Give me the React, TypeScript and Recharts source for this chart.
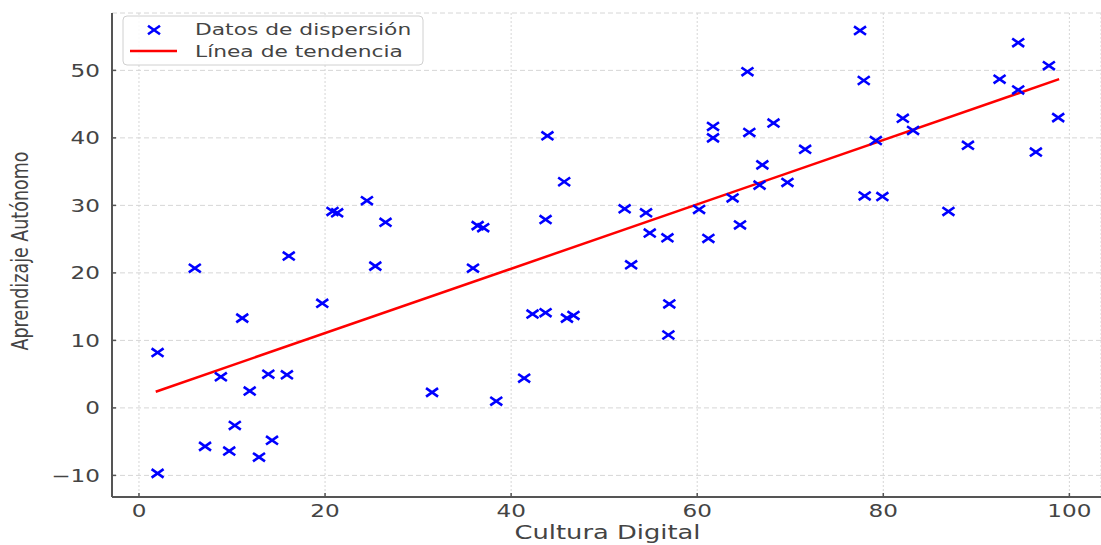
import React from 'react';
import {
  ScatterChart,
  Scatter,
  XAxis,
  YAxis,
  CartesianGrid,
} from 'recharts';

// Cultura Digital (x) vs Aprendizaje Autónomo (y)
const culturaDigital = [
  2.0, 2.0, 6.0, 7.1, 8.8, 9.7, 10.3, 11.1, 11.9, 12.9, 13.9, 14.3, 15.9, 16.1,
  19.7, 20.8, 21.3, 24.5, 25.4, 26.5, 31.5, 35.9, 36.4, 37.0, 38.4, 41.4, 42.3,
  43.7, 43.9, 43.7, 45.7, 46.0, 46.7, 52.2, 52.9, 54.5, 54.9, 56.8, 57.0, 56.9,
  60.2, 61.2, 61.7, 61.7, 63.8, 64.6, 65.4, 65.6, 66.7, 67.0, 68.2, 69.7, 71.6,
  77.5, 77.9, 78.0, 79.2, 79.9, 82.1, 83.2, 87.0, 89.1, 92.5, 94.5, 94.5, 96.4,
  97.8, 98.8,
];
const aprendizaje = [
  -9.7, 8.2, 20.7, -5.7, 4.6, -6.4, -2.6, 13.3, 2.5, -7.3, 5.0, -4.8, 4.9, 22.5,
  15.5, 29.1, 28.9, 30.7, 21.0, 27.5, 2.3, 20.7, 27.0, 26.7, 1.0, 4.4, 13.9,
  14.1, 40.3, 27.9, 33.5, 13.3, 13.7, 29.5, 21.2, 28.9, 25.9, 25.2, 15.4, 10.8,
  29.4, 25.1, 41.7, 40.0, 31.1, 27.1, 49.8, 40.8, 33.0, 36.0, 42.2, 33.4, 38.3,
  55.9, 48.5, 31.4, 39.6, 31.3, 42.9, 41.1, 29.1, 38.9, 48.7, 54.1, 47.1, 37.9,
  50.7, 43.0,
];

// trend line end points
const trendX = [1.8, 98.9];
const trendY = [2.4, 48.7];

const xTicks = [0, 20, 40, 60, 80, 100];
const yTicks = [-10, 0, 10, 20, 30, 40, 50];

const points = culturaDigital.map((x, i) => ({ x, y: aprendizaje[i] }));
const trend = trendX.map((x, i) => ({ x, y: trendY[i] }));

const FONT = 'DejaVu Sans';
const TEXT = '#444';
const AXIS = '#555';
const STRETCH = 1.32;

const fmt = (v: number) => (v < 0 ? '\u2212' + Math.abs(v) : String(v));

const XMark = (props: any) => {
  const { cx, cy } = props;
  if (cx == null || cy == null) return null;
  return (
    <g stroke="#0000ff" strokeWidth={2.6}>
      <line x1={cx - 6} y1={cy - 4.2} x2={cx + 6} y2={cy + 4.2} />
      <line x1={cx - 6} y1={cy + 4.2} x2={cx + 6} y2={cy - 4.2} />
    </g>
  );
};

const XTick = (props: any) => {
  const { x, y, payload } = props;
  return (
    <g>
      <line x1={x} x2={x} y1={y} y2={y - 4} stroke={AXIS} strokeWidth={1.5} />
      <text
        transform={`translate(${x},${y + 20}) scale(${STRETCH},1)`}
        textAnchor="middle"
        fontFamily={FONT}
        fontSize={17.5}
        fill={TEXT}
      >
        {fmt(payload.value)}
      </text>
    </g>
  );
};

const YTick = (props: any) => {
  const { x, y, payload } = props;
  return (
    <g>
      <line x1={x} x2={x + 4} y1={y} y2={y} stroke={AXIS} strokeWidth={1.5} />
      <text
        transform={`translate(${x - 12},${y + 6.5}) scale(${STRETCH},1)`}
        textAnchor="end"
        fontFamily={FONT}
        fontSize={17.5}
        fill={TEXT}
      >
        {fmt(payload.value)}
      </text>
    </g>
  );
};

const XLabel = (props: any) => {
  const { viewBox } = props;
  const cx = viewBox.x + viewBox.width / 2;
  return (
    <text
      transform={`translate(${cx + 1},${viewBox.y + 42}) scale(${STRETCH},1)`}
      textAnchor="middle"
      fontFamily={FONT}
      fontSize={19.5}
      fill={TEXT}
    >
      Cultura Digital
    </text>
  );
};

const YLabel = () => (
  <text
    transform={`translate(28,251) scale(${STRETCH},1) rotate(-90)`}
    textAnchor="middle"
    fontFamily={FONT}
    fontSize={17.5}
    fill={TEXT}
  >
    Aprendizaje Autónomo
  </text>
);

const LegendBox = () => (
  <svg
    width={310}
    height={60}
    style={{ position: 'absolute', left: 0, top: 0, overflow: 'visible' }}
  >
    <rect
      x={123}
      y={16}
      width={300}
      height={49}
      rx={4}
      fill="#fff"
      fillOpacity={0.85}
      stroke="#d0d0d0"
    />
    <XMark cx={154} cy={30} />
    <line x1={130} x2={177} y1={51} y2={51} stroke="#ff0000" strokeWidth={2.5} />
    <text
      transform={`translate(195,35) scale(${STRETCH},1)`}
      fontFamily={FONT}
      fontSize={16.5}
      fill={TEXT}
    >
      Datos de dispersión
    </text>
    <text
      transform={`translate(195,57) scale(${STRETCH},1)`}
      fontFamily={FONT}
      fontSize={16.5}
      fill={TEXT}
    >
      Línea de tendencia
    </text>
  </svg>
);

export default function App() {
  return (
    <div
      style={{
        position: 'absolute',
        left: 0,
        top: 0,
        width: 1101,
        height: 545,
        background: '#fff',
      }}
    >
      <ScatterChart
        width={1101}
        height={545}
        margin={{ top: 13, right: 0, bottom: 0, left: 0 }}
      >
        <CartesianGrid
          horizontal
          vertical={false}
          stroke="#d6d6d6"
          strokeDasharray="5 3"
        />
        <CartesianGrid
          horizontal={false}
          vertical
          stroke="#d6d6d6"
          strokeDasharray="2 2"
        />
        <XAxis
          type="number"
          dataKey="x"
          domain={[-2.9, 103.4]}
          ticks={xTicks}
          allowDataOverflow
          height={48}
          tickSize={0}
          tickMargin={0}
          tickLine={false}
          axisLine={{ stroke: AXIS, strokeWidth: 2 }}
          tick={<XTick />}
          label={<XLabel />}
        />
        <YAxis
          type="number"
          dataKey="y"
          domain={[-13.2, 58.5]}
          ticks={yTicks}
          allowDataOverflow
          width={112}
          tickSize={0}
          tickMargin={0}
          tickLine={false}
          axisLine={{ stroke: AXIS, strokeWidth: 2 }}
          tick={<YTick />}
          label={<YLabel />}
        />
        <Scatter
          data={trend}
          line={{ stroke: '#ff0000', strokeWidth: 2.5 }}
          shape={() => <g />}
          isAnimationActive={false}
        />
        <Scatter data={points} shape={<XMark />} isAnimationActive={false} />
      </ScatterChart>
      <LegendBox />
    </div>
  );
}
